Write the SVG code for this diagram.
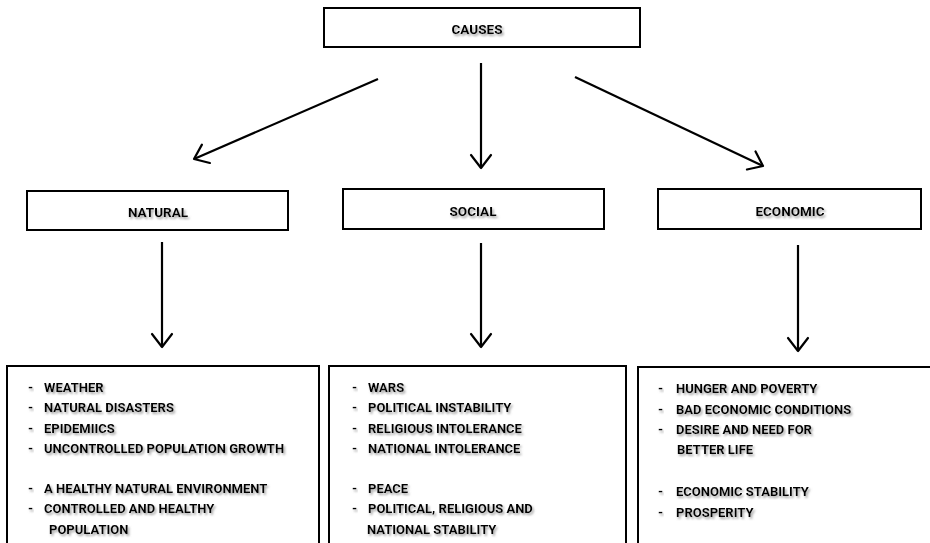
<svg xmlns="http://www.w3.org/2000/svg" width="930" height="543" viewBox="0 0 930 543">
<defs>
<filter id="sh" x="-10%" y="-30%" width="120%" height="170%">
<feDropShadow dx="1.5" dy="2" stdDeviation="1.2" flood-color="#888" flood-opacity="0.8"/>
</filter>
<marker id="ah" markerUnits="userSpaceOnUse" markerWidth="30" markerHeight="30" refX="0" refY="0" viewBox="-16 -15 20 30" orient="auto" overflow="visible">
<path d="M-13,-10 L0,0 L-13,10" fill="none" stroke="#000" stroke-width="2.2" stroke-linecap="round" stroke-linejoin="round"/>
</marker>
</defs>
<style>
.box{fill:#fff;stroke:#000;stroke-width:2}
.t{font-family:Roboto,"Liberation Sans",sans-serif;font-weight:bold;font-size:13px;fill:#000;filter:url(#sh)}
.h{text-anchor:middle;font-size:13.5px}
.c{stroke:#000;stroke-width:2.2;fill:none;marker-end:url(#ah)}
</style>
<rect width="930" height="543" fill="#fff"/>
<g id="connectors">
<line class="c" x1="378" y1="79" x2="194" y2="159"/>
<line class="c" x1="481" y1="63" x2="481" y2="168"/>
<line class="c" x1="575" y1="77" x2="763" y2="166"/>
<line class="c" x1="162" y1="242" x2="162" y2="347"/>
<line class="c" x1="481" y1="243" x2="481" y2="347"/>
<line class="c" x1="798" y1="245" x2="798" y2="351"/>
</g>
<g id="causes">
<rect class="box" x="324" y="8" width="316" height="39"/>
<text class="t h" x="477" y="34">CAUSES</text>
</g>
<g id="natural">
<rect class="box" x="27" y="191" width="261" height="39"/>
<text class="t h" x="158" y="217">NATURAL</text>
</g>
<g id="social">
<rect class="box" x="343" y="189" width="261" height="40"/>
<text class="t h" x="473" y="216">SOCIAL</text>
</g>
<g id="economic">
<rect class="box" x="658" y="189" width="263" height="40"/>
<text class="t h" x="790" y="216">ECONOMIC</text>
</g>
<g id="natural-list">
<rect class="box" x="7" y="366" width="312" height="190"/>
<text class="t" x="28" y="392" font-weight="normal" fill="#666">-</text>
<text class="t" x="44" y="392">WEATHER</text>
<text class="t" x="28" y="412">-</text>
<text class="t" x="44" y="412">NATURAL DISASTERS</text>
<text class="t" x="28" y="433">-</text>
<text class="t" x="44" y="433">EPIDEMIICS</text>
<text class="t" x="28" y="453">-</text>
<text class="t" x="44" y="453">UNCONTROLLED POPULATION GROWTH</text>
<text class="t" x="28" y="493">-</text>
<text class="t" x="44" y="493">A HEALTHY NATURAL ENVIRONMENT</text>
<text class="t" x="28" y="513">-</text>
<text class="t" x="44" y="513">CONTROLLED AND HEALTHY</text>
<text class="t" x="49" y="534">POPULATION</text>
</g>
<g id="social-list">
<rect class="box" x="329" y="366" width="297" height="190"/>
<text class="t" x="352" y="392">-</text>
<text class="t" x="368" y="392">WARS</text>
<text class="t" x="352" y="412">-</text>
<text class="t" x="368" y="412">POLITICAL INSTABILITY</text>
<text class="t" x="352" y="433">-</text>
<text class="t" x="368" y="433">RELIGIOUS INTOLERANCE</text>
<text class="t" x="352" y="453">-</text>
<text class="t" x="368" y="453">NATIONAL INTOLERANCE</text>
<text class="t" x="352" y="493">-</text>
<text class="t" x="368" y="493">PEACE</text>
<text class="t" x="352" y="513">-</text>
<text class="t" x="368" y="513">POLITICAL, RELIGIOUS AND</text>
<text class="t" x="367" y="534">NATIONAL STABILITY</text>
</g>
<g id="economic-list">
<rect class="box" x="638" y="367" width="300" height="190"/>
<text class="t" x="658" y="393">-</text>
<text class="t" x="676" y="393">HUNGER AND POVERTY</text>
<text class="t" x="658" y="414">-</text>
<text class="t" x="676" y="414">BAD ECONOMIC CONDITIONS</text>
<text class="t" x="658" y="434">-</text>
<text class="t" x="676" y="434">DESIRE AND NEED FOR</text>
<text class="t" x="677" y="454">BETTER LIFE</text>
<text class="t" x="658" y="496">-</text>
<text class="t" x="676" y="496">ECONOMIC STABILITY</text>
<text class="t" x="658" y="517">-</text>
<text class="t" x="676" y="517">PROSPERITY</text>
</g>
</svg>
